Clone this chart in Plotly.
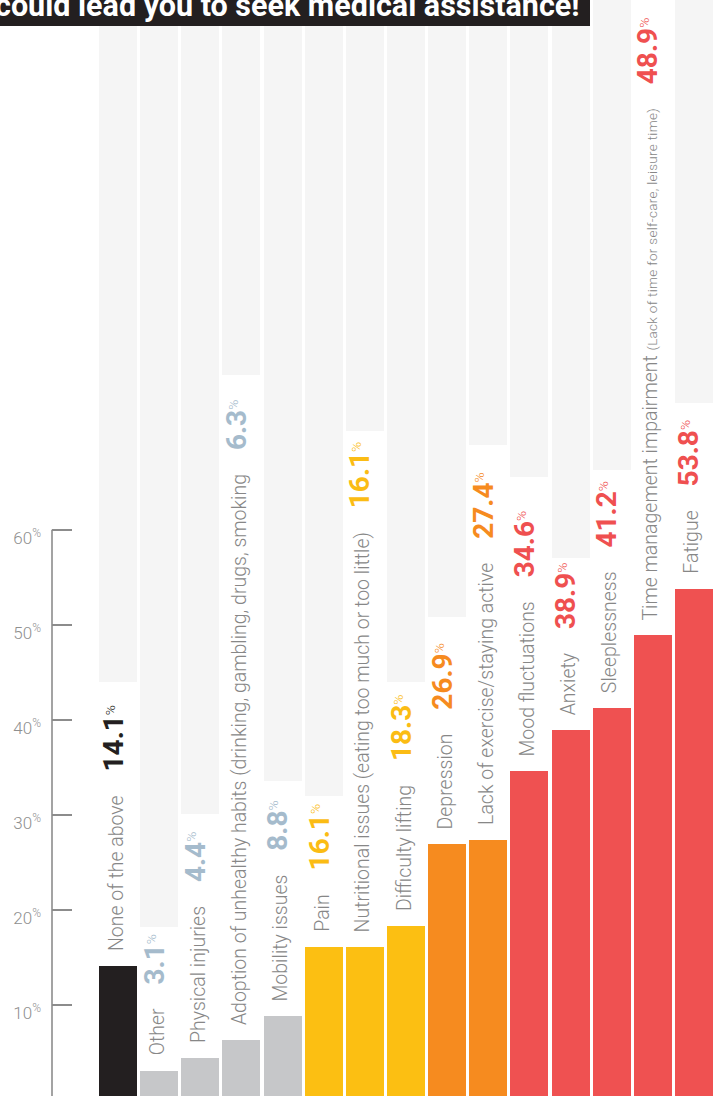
import plotly.graph_objects as go

# ---------------- data ----------------
categories = [
    "None of the above",
    "Other",
    "Physical injuries",
    "Adoption of unhealthy habits (drinking, gambling, drugs, smoking",
    "Mobility issues",
    "Pain",
    "Nutritional issues (eating too much or too little)",
    "Difficulty lifting",
    "Depression",
    "Lack of exercise/staying active",
    "Mood fluctuations",
    "Anxiety",
    "Sleeplessness",
    "Time management impairment",
    "Fatigue",
]
category_notes = ["", "", "", "", "", "", "", "", "", "", "", "", "",
                  "(Lack of time for self-care, leisure time)", ""]
values = [14.1, 3.1, 4.4, 6.3, 8.8, 16.1, 16.1, 18.3, 26.9, 27.4,
          34.6, 38.9, 41.2, 48.9, 53.8]
tiers = ["none", "low", "low", "low", "low", "mid", "mid", "mid",
         "high", "high", "top", "top", "top", "top", "top"]
# lower edge of the pale backdrop column behind each category (percent units)
backdrop_floor = [44.0, 18.2, 30.1, 76.3, 33.6, 32.0, 70.4, 44.0, 50.8,
                  68.9, 65.5, 57.0, 66.3, None, 73.3]
tick_values = [10, 20, 30, 40, 50, 60]
tick_labels = ["10<sup>%</sup>", "20<sup>%</sup>", "30<sup>%</sup>",
               "40<sup>%</sup>", "50<sup>%</sup>", "60<sup>%</sup>"]
title_text = "could lead you to seek medical assistance!"

# ---------------- styles ----------------
BAR_COLORS = {"none": "#231f20", "low": "#c6c7c9", "mid": "#fcbf12",
              "high": "#f68b1f", "top": "#ef5151"}
VALUE_COLORS = {"none": "#231f20", "low": "#a5bbcc", "mid": "#fbbc14",
                "high": "#f68b1f", "top": "#ef5050"}
LABEL_COLOR = "#878787"
AXIS_COLOR = "#8c8c8c"
BACKDROP = "#f5f5f5"
FONT = "Roboto"

W, H = 724, 1096
ML = 52
PLOT_W = W - ML
Y_RANGE = [0.43, 115.73]
X_RANGE = [-1.604, 14.73]
BAR_W = 0.924
Y_TOP = 130

positions = list(range(len(categories)))

fig = go.Figure()

bd_pos = [p for p, f in zip(positions, backdrop_floor) if f is not None]
bd_base = [f for f in backdrop_floor if f is not None]
fig.add_trace(go.Bar(
    x=bd_pos, y=[Y_TOP - b for b in bd_base], base=bd_base,
    width=BAR_W, marker=dict(color=BACKDROP, line=dict(width=0)),
    hoverinfo="skip", showlegend=False))

fig.add_trace(go.Bar(
    x=positions, y=values, width=BAR_W,
    marker=dict(color=[BAR_COLORS[t] for t in tiers], line=dict(width=0)),
    hovertext=categories, hoverinfo="text+y", showlegend=False))

annotations = []
for p, cat, note, v, t in zip(positions, categories, category_notes, values, tiers):
    vc = VALUE_COLORS[t]
    txt = cat
    if note:
        txt += (" <span style='font-size:13.5px;letter-spacing:0.3px'>"
                + note + "</span>")
    txt += ("\u2003\u2009<span style='font-size:28px;color:%s'><b>%.1f</b></span>"
            "<span style='color:%s'><sup>%%</sup></span>") % (vc, v, vc)
    annotations.append(dict(
        x=p, y=v, xref="x", yref="y", text=txt, textangle=-90,
        showarrow=False, xanchor="center", yanchor="bottom",
        yshift=14, xshift=-5, borderpad=0,
        font=dict(family=FONT, size=19.5, color=LABEL_COLOR, weight=300)))

# title banner text
annotations.append(dict(
    x=(-6 - ML) / PLOT_W, y=1, xref="paper", yref="paper",
    xanchor="left", yanchor="top", yshift=13, showarrow=False,
    text="<b>" + title_text + "</b>", borderpad=0,
    font=dict(family=FONT, size=30.5, color="white")))

shapes = [
    # y axis line from 0 to 60%
    dict(type="line", xref="paper", yref="y", x0=0, x1=0,
         y0=Y_RANGE[0] - 1, y1=60, line=dict(color=AXIS_COLOR, width=1.6)),
    # title banner
    dict(type="rect", xref="paper", yref="paper", layer="above",
         x0=-ML / PLOT_W, x1=(590 - ML) / PLOT_W,
         y0=(H - 26) / H, y1=1.01, fillcolor="#231f20", line=dict(width=0)),
]

fig.update_layout(
    width=W, height=H,
    margin=dict(l=ML, r=0, t=0, b=0),
    paper_bgcolor="white", plot_bgcolor="white",
    barmode="overlay", bargap=0,
    xaxis=dict(range=X_RANGE, visible=False, fixedrange=True),
    yaxis=dict(range=Y_RANGE, tickvals=tick_values, ticktext=tick_labels,
               ticks="inside", ticklen=20, tickwidth=1.6, tickcolor=AXIS_COLOR,
               showgrid=False, zeroline=False, showline=False,
               ticklabelstandoff=10, ticklabelshift=8, fixedrange=True,
               tickfont=dict(family=FONT, size=17, color="#8f8f8f", weight=300)),
    annotations=annotations, shapes=shapes,
    showlegend=False,
)

fig.write_html("out.html",
               config={"displayModeBar": False},
               post_script="document.body.style.margin='0';"
                           "document.body.style.overflow='hidden';")
